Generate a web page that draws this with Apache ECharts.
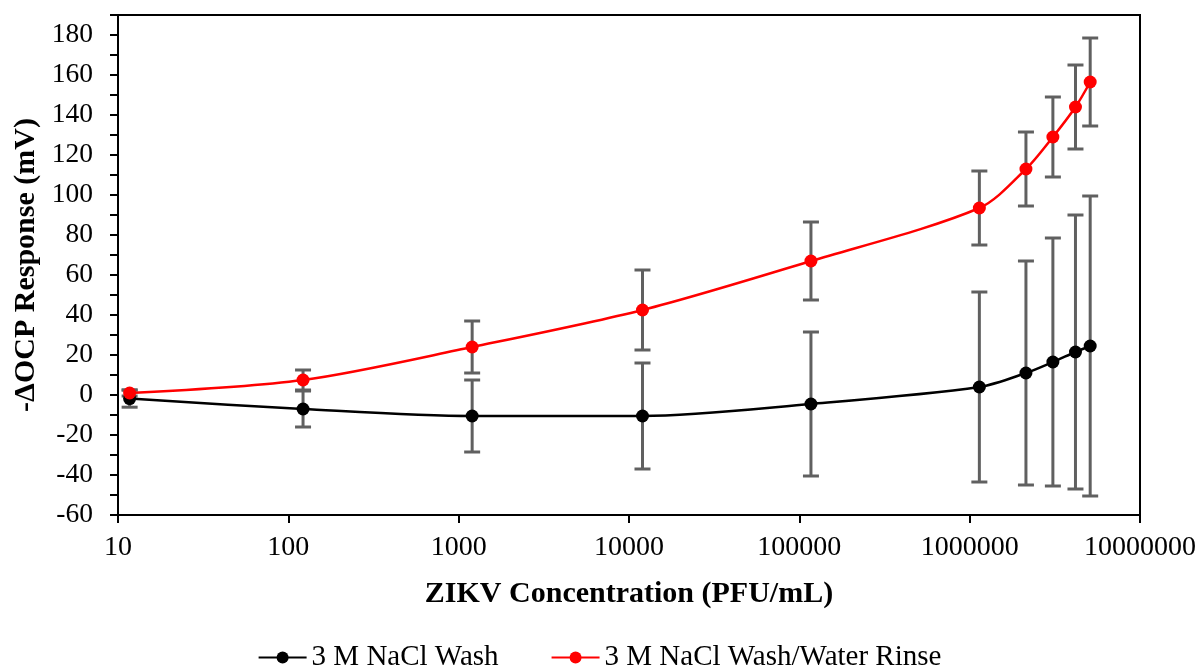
<!DOCTYPE html>
<html lang="en">
<head>
    <meta charset="UTF-8">
    <title>ZIKV OCP response</title>
    <script src="https://cdn.jsdelivr.net/npm/echarts@6/dist/echarts.min.js"></script>
    <style>
        html, body { margin: 0; padding: 0; background: #fff; }
        #container { width: 1199px; height: 670px; }
    </style>
</head>
<body>
<div id="container"></div>
<script>
    // ZIKV concentration (PFU/mL)
    var concentrations = [11.7, 122, 1200, 12000, 117000, 1140000, 2140000, 3080000, 4180000, 5100000];

    // 3 M NaCl Wash
    var washMean = [-1.8, -7, -10.5, -10.5, -4.5, 4, 11, 16.5, 21.5, 24.5];
    var washErr  = [4.3, 9, 18, 26.5, 36, 47.5, 56, 62, 68.5, 75];

    // 3 M NaCl Wash/Water Rinse
    var rinseMean = [1, 7.5, 24, 42.5, 67, 93.5, 113, 129, 144, 156.5];
    var rinseErr  = [1.5, 5, 13, 20, 19.5, 18.5, 18.5, 20, 21, 22];

    var seriesNames = ['3 M NaCl Wash', '3 M NaCl Wash/Water Rinse'];
    var seriesColors = ['#000000', '#ff0000'];

    var font = "'Liberation Serif', 'Times New Roman', serif";

    var pairs = function (means) {
        return concentrations.map(function (c, i) { return [c, means[i]]; });
    };
    var bars = function (means, errs) {
        return concentrations.map(function (c, i) {
            return [c, means[i] - errs[i], means[i] + errs[i]];
        });
    };

    var renderErrorBar = function (params, api) {
        var x = api.value(0);
        var top = api.coord([x, api.value(2)]);
        var bot = api.coord([x, api.value(1)]);
        var w = 8;
        var style = { stroke: '#606060', lineWidth: 3 };
        return {
            type: 'group',
            children: [
                { type: 'line', shape: { x1: top[0], y1: top[1], x2: bot[0], y2: bot[1] }, style: style },
                { type: 'line', shape: { x1: top[0] - w, y1: top[1], x2: top[0] + w, y2: top[1] }, style: style },
                { type: 'line', shape: { x1: bot[0] - w, y1: bot[1], x2: bot[0] + w, y2: bot[1] }, style: style }
            ]
        };
    };

    var myChart = echarts.init(document.getElementById('container'));

    var option = {
        backgroundColor: '#fff',
        animation: false,
        grid: {
            left: 118, right: 59, top: 15, bottom: 155,
            show: true, borderColor: '#000', borderWidth: 2
        },
        legend: {
            data: seriesNames,
            left: 'center',
            top: 643,
            padding: 0,
            itemGap: 52,
            itemWidth: 48,
            itemHeight: 15,
            textStyle: { fontFamily: font, fontSize: 29, color: '#000' }
        },
        xAxis: {
            type: 'log',
            logBase: 10,
            min: 10,
            max: 10000000,
            name: 'ZIKV Concentration (PFU/mL)',
            nameLocation: 'middle',
            nameGap: 64,
            nameTextStyle: { fontFamily: font, fontSize: 30, fontWeight: 'bold', color: '#000' },
            axisLine: { onZero: false, lineStyle: { color: '#000', width: 2 } },
            axisTick: { inside: false, length: 8, lineStyle: { color: '#000', width: 2 } },
            minorTick: { show: false },
            splitLine: { show: false },
            axisLabel: {
                margin: 19,
                fontFamily: font, fontSize: 28, color: '#000',
                formatter: function (v) { return String(Math.round(v)); }
            }
        },
        yAxis: {
            type: 'value',
            min: -60,
            max: 190,
            interval: 10,
            name: '-ΔOCP Response (mV)',
            nameLocation: 'middle',
            nameRotate: 90,
            nameGap: 73,
            nameTextStyle: { fontFamily: font, fontSize: 30, fontWeight: 'bold', color: '#000' },
            axisLine: { show: true, lineStyle: { color: '#000', width: 2 } },
            axisTick: { inside: false, length: 8, lineStyle: { color: '#000', width: 2 } },
            splitLine: { show: false },
            axisLabel: {
                margin: 25,
                fontFamily: font, fontSize: 27.5, color: '#000',
                formatter: function (v) { return v % 20 === 0 ? String(v) : ''; }
            }
        },
        series: [
            {
                type: 'custom',
                name: 'wash-err',
                renderItem: renderErrorBar,
                encode: { x: 0, y: [1, 2] },
                data: bars(washMean, washErr),
                z: 1,
                silent: true
            },
            {
                type: 'custom',
                name: 'rinse-err',
                renderItem: renderErrorBar,
                encode: { x: 0, y: [1, 2] },
                data: bars(rinseMean, rinseErr),
                z: 1,
                silent: true
            },
            {
                name: seriesNames[0],
                type: 'line',
                smooth: 0.3,
                symbol: 'circle',
                symbolSize: 13,
                color: seriesColors[0],
                lineStyle: { color: seriesColors[0], width: 2.5 },
                itemStyle: { color: seriesColors[0] },
                data: pairs(washMean),
                z: 3
            },
            {
                name: seriesNames[1],
                type: 'line',
                smooth: 0.3,
                symbol: 'circle',
                symbolSize: 13,
                color: seriesColors[1],
                lineStyle: { color: seriesColors[1], width: 2.5 },
                itemStyle: { color: seriesColors[1] },
                data: pairs(rinseMean),
                z: 4
            }
        ]
    };

    myChart.setOption(option);
</script>
</body>
</html>
